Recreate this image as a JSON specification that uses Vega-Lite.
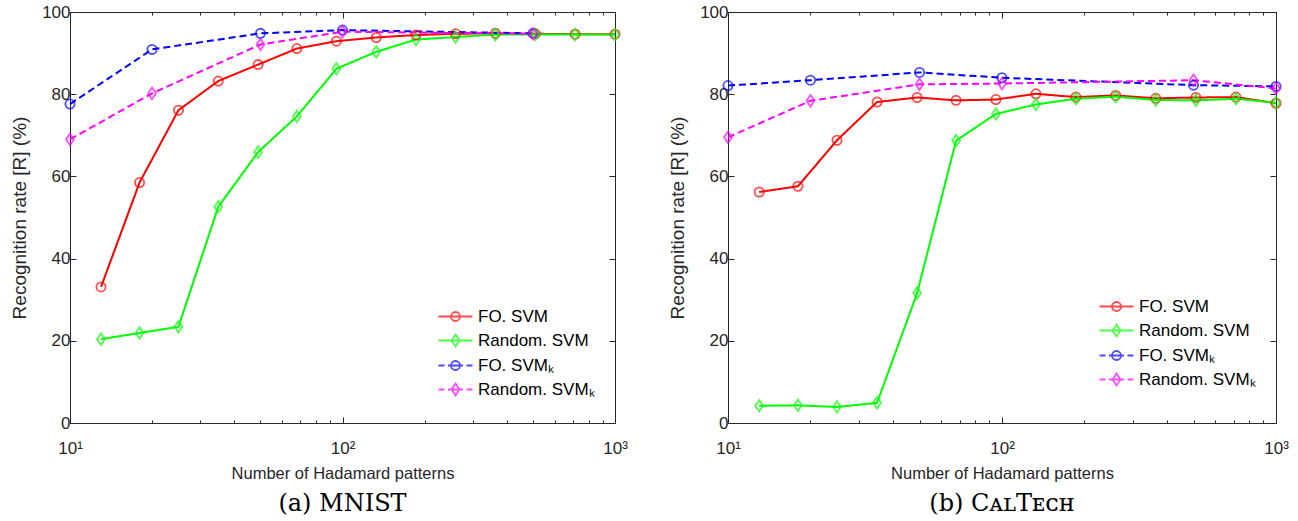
{
  "$schema": "https://vega.github.io/schema/vega-lite/v6.json",
  "background": "white",
  "padding": {"left": 10, "top": 3, "right": 5, "bottom": 5},
  "spacing": 40,
  "config": {
    "view": {"stroke": null},
    "axis": {
      "labelFont": "Liberation Sans",
      "labelFontSize": 17,
      "labelColor": "#262626",
      "titleFont": "Liberation Sans",
      "titleFontSize": 16.5,
      "titleFontWeight": "normal",
      "titleColor": "#262626",
      "domainColor": "#262626",
      "tickColor": "#262626",
      "domainWidth": 1,
      "tickWidth": 1,
      "grid": false
    },
    "legend": {
      "labelFont": "Liberation Sans",
      "labelFontSize": 17,
      "labelColor": "#000000"
    }
  },
  "datasets": {
    "mnist": [
      {"n": 13, "rate": 33.1, "series": "FO. SVM"},
      {"n": 18, "rate": 58.5, "series": "FO. SVM"},
      {"n": 25, "rate": 76.1, "series": "FO. SVM"},
      {"n": 35, "rate": 83.2, "series": "FO. SVM"},
      {"n": 49, "rate": 87.2, "series": "FO. SVM"},
      {"n": 68, "rate": 91.1, "series": "FO. SVM"},
      {"n": 95, "rate": 92.9, "series": "FO. SVM"},
      {"n": 133, "rate": 93.8, "series": "FO. SVM"},
      {"n": 186, "rate": 94.4, "series": "FO. SVM"},
      {"n": 260, "rate": 94.7, "series": "FO. SVM"},
      {"n": 364, "rate": 94.8, "series": "FO. SVM"},
      {"n": 510, "rate": 94.7, "series": "FO. SVM"},
      {"n": 714, "rate": 94.6, "series": "FO. SVM"},
      {"n": 1000, "rate": 94.6, "series": "FO. SVM"},
      {"n": 13, "rate": 20.4, "series": "Random. SVM"},
      {"n": 18, "rate": 21.9, "series": "Random. SVM"},
      {"n": 25, "rate": 23.4, "series": "Random. SVM"},
      {"n": 35, "rate": 52.6, "series": "Random. SVM"},
      {"n": 49, "rate": 65.9, "series": "Random. SVM"},
      {"n": 68, "rate": 74.6, "series": "Random. SVM"},
      {"n": 95, "rate": 86.2, "series": "Random. SVM"},
      {"n": 133, "rate": 90.3, "series": "Random. SVM"},
      {"n": 186, "rate": 93.3, "series": "Random. SVM"},
      {"n": 260, "rate": 93.9, "series": "Random. SVM"},
      {"n": 364, "rate": 94.5, "series": "Random. SVM"},
      {"n": 510, "rate": 94.5, "series": "Random. SVM"},
      {"n": 714, "rate": 94.5, "series": "Random. SVM"},
      {"n": 1000, "rate": 94.5, "series": "Random. SVM"},
      {"n": 10, "rate": 77.6, "series": "FO. SVMₖ"},
      {"n": 20, "rate": 90.9, "series": "FO. SVMₖ"},
      {"n": 50, "rate": 94.8, "series": "FO. SVMₖ"},
      {"n": 100, "rate": 95.6, "series": "FO. SVMₖ"},
      {"n": 500, "rate": 94.8, "series": "FO. SVMₖ"},
      {"n": 10, "rate": 69.0, "series": "Random. SVMₖ"},
      {"n": 20, "rate": 80.2, "series": "Random. SVMₖ"},
      {"n": 50, "rate": 92.1, "series": "Random. SVMₖ"},
      {"n": 100, "rate": 95.2, "series": "Random. SVMₖ"},
      {"n": 500, "rate": 94.7, "series": "Random. SVMₖ"}
    ],
    "caltech": [
      {"n": 13, "rate": 56.2, "series": "FO. SVM"},
      {"n": 18, "rate": 57.6, "series": "FO. SVM"},
      {"n": 25, "rate": 68.8, "series": "FO. SVM"},
      {"n": 35, "rate": 78.1, "series": "FO. SVM"},
      {"n": 49, "rate": 79.2, "series": "FO. SVM"},
      {"n": 68, "rate": 78.5, "series": "FO. SVM"},
      {"n": 95, "rate": 78.7, "series": "FO. SVM"},
      {"n": 133, "rate": 80.1, "series": "FO. SVM"},
      {"n": 186, "rate": 79.3, "series": "FO. SVM"},
      {"n": 260, "rate": 79.7, "series": "FO. SVM"},
      {"n": 364, "rate": 79.0, "series": "FO. SVM"},
      {"n": 510, "rate": 79.2, "series": "FO. SVM"},
      {"n": 714, "rate": 79.3, "series": "FO. SVM"},
      {"n": 1000, "rate": 77.8, "series": "FO. SVM"},
      {"n": 13, "rate": 4.2, "series": "Random. SVM"},
      {"n": 18, "rate": 4.3, "series": "Random. SVM"},
      {"n": 25, "rate": 3.9, "series": "Random. SVM"},
      {"n": 35, "rate": 4.9, "series": "Random. SVM"},
      {"n": 49, "rate": 31.6, "series": "Random. SVM"},
      {"n": 68, "rate": 68.7, "series": "Random. SVM"},
      {"n": 95, "rate": 75.2, "series": "Random. SVM"},
      {"n": 133, "rate": 77.5, "series": "Random. SVM"},
      {"n": 186, "rate": 78.9, "series": "Random. SVM"},
      {"n": 260, "rate": 79.4, "series": "Random. SVM"},
      {"n": 364, "rate": 78.6, "series": "Random. SVM"},
      {"n": 510, "rate": 78.5, "series": "Random. SVM"},
      {"n": 714, "rate": 78.9, "series": "Random. SVM"},
      {"n": 1000, "rate": 77.9, "series": "Random. SVM"},
      {"n": 10, "rate": 82.1, "series": "FO. SVMₖ"},
      {"n": 20, "rate": 83.4, "series": "FO. SVMₖ"},
      {"n": 50, "rate": 85.3, "series": "FO. SVMₖ"},
      {"n": 100, "rate": 84.0, "series": "FO. SVMₖ"},
      {"n": 500, "rate": 82.2, "series": "FO. SVMₖ"},
      {"n": 1000, "rate": 81.9, "series": "FO. SVMₖ"},
      {"n": 10, "rate": 69.5, "series": "Random. SVMₖ"},
      {"n": 20, "rate": 78.4, "series": "Random. SVMₖ"},
      {"n": 50, "rate": 82.4, "series": "Random. SVMₖ"},
      {"n": 100, "rate": 82.6, "series": "Random. SVMₖ"},
      {"n": 500, "rate": 83.4, "series": "Random. SVMₖ"},
      {"n": 1000, "rate": 81.4, "series": "Random. SVMₖ"}
    ]
  },
  "resolve": {
    "scale": {"color": "independent", "shape": "independent", "strokeDash": "independent"},
    "legend": {"color": "independent", "shape": "independent"}
  },
  "hconcat": [
    {
      "width": 545,
      "height": 411,
      "data": {"name": "mnist"},
      "title": {"text": "(a) MNIST", "orient": "bottom", "anchor": "middle", "frame": "group", "font": "DejaVu Serif", "fontSize": 24, "fontWeight": "normal", "color": "#000000", "offset": 10},
      "resolve": {"axis": {"x": "independent", "y": "independent"}},
      "layer": [
        {
          "mark": {"type": "line", "strokeWidth": 2},
          "encoding": {
            "x": {"field": "n", "type": "quantitative", "scale": {"type": "log", "domain": [10, 1000], "nice": false},
              "axis": {"orient": "bottom", "title": "Number of Hadamard patterns", "values": [10, 20, 30, 40, 50, 60, 70, 80, 90, 100, 200, 300, 400, 500, 600, 700, 800, 900, 1000],
                "labelExpr": "datum.value == 10 ? '10¹' : datum.value == 100 ? '10²' : datum.value == 1000 ? '10³' : ''",
                "tickSize": {"condition": {"test": "indexof([10, 100, 1000], datum.value) >= 0", "value": -6}, "value": -3},
                "labelPadding": 23, "titlePadding": 6, "labelFlush": false, "labelOverlap": false}},
            "y": {"field": "rate", "type": "quantitative", "scale": {"domain": [0, 100], "nice": false},
              "axis": {"orient": "left", "title": "Recognition rate [R] (%)", "titleFontSize": 19, "values": [0, 20, 40, 60, 80, 100], "tickSize": -6, "labelPadding": 6, "titlePadding": 12}},
            "color": {"field": "series", "type": "nominal",
              "scale": {"domain": ["FO. SVM", "Random. SVM", "FO. SVMₖ", "Random. SVMₖ"], "range": ["#ff0000", "#00ff00", "#0000ff", "#ff00ff"]},
              "legend": {"orient": "none", "legendX": 377, "legendY": 296, "title": null, "padding": 0, "symbolSize": 100, "symbolStrokeWidth": 1.8, "symbolFillColor": "transparent", "labelOffset": 14, "rowPadding": 5}},
            "strokeDash": {"field": "series", "type": "nominal",
              "scale": {"range": [[1, 0], [7, 4], [1, 0], [7, 4]]}, "legend": null}
          }
        },
        {
          "transform": [{"filter": "indexof(datum.series, 'FO') == 0"}],
          "mark": {"type": "point", "shape": "circle", "filled": false, "strokeWidth": 1.8, "size": 85},
          "encoding": {
            "x": {"field": "n", "type": "quantitative",
              "axis": {"orient": "top", "title": null, "labels": false, "values": [10, 20, 30, 40, 50, 60, 70, 80, 90, 100, 200, 300, 400, 500, 600, 700, 800, 900, 1000],
                "tickSize": {"condition": {"test": "indexof([10, 100, 1000], datum.value) >= 0", "value": -6}, "value": -3}}},
            "y": {"field": "rate", "type": "quantitative",
              "axis": {"orient": "right", "title": null, "labels": false, "values": [0, 20, 40, 60, 80, 100], "tickSize": -6}},
            "color": {"field": "series", "type": "nominal"}
          }
        },
        {
          "transform": [{"filter": "indexof(datum.series, 'Random') == 0"}],
          "mark": {"type": "point", "shape": "M0,-1.25L0.85,0L0,1.25L-0.85,0Z", "filled": false, "strokeWidth": 1.8, "size": 85},
          "encoding": {
            "x": {"field": "n", "type": "quantitative", "axis": null},
            "y": {"field": "rate", "type": "quantitative", "axis": null},
            "color": {"field": "series", "type": "nominal"}
          }
        },
        {
          "transform": [{"filter": "false"}],
          "mark": {"type": "point", "filled": false, "strokeWidth": 1.8},
          "encoding": {
            "x": {"field": "n", "type": "quantitative", "axis": null},
            "y": {"field": "rate", "type": "quantitative", "axis": null},
            "color": {"field": "series", "type": "nominal"},
            "shape": {"field": "series", "type": "nominal",
              "scale": {"domain": ["FO. SVM", "Random. SVM", "FO. SVMₖ", "Random. SVMₖ"],
                "range": [
                  "M-3.4,0H3.4M0.9,0A0.9,0.9,0,1,1,-0.9,0A0.9,0.9,0,1,1,0.9,0Z",
                  "M-3.4,0H3.4M0,-1.2L0.8,0L0,1.2L-0.8,0Z",
                  "M-3.4,0H-2.2M-1.5,0H1.5M2.2,0H3.4M0.9,0A0.9,0.9,0,1,1,-0.9,0A0.9,0.9,0,1,1,0.9,0Z",
                  "M-3.4,0H-2.2M-1.5,0H1.5M2.2,0H3.4M0,-1.2L0.8,0L0,1.2L-0.8,0Z"]},
              "legend": {"orient": "none", "legendX": 377, "legendY": 296, "title": null, "padding": 0, "symbolSize": 100, "symbolStrokeWidth": 1.8, "symbolFillColor": "transparent", "labelOffset": 14, "rowPadding": 5}}
          }
        }
      ]
    },
    {
      "width": 548,
      "height": 411,
      "data": {"name": "caltech"},
      "title": {"text": "(b) CᴀʟTᴇᴄʜ", "orient": "bottom", "anchor": "middle", "frame": "group", "font": "DejaVu Serif", "fontSize": 24, "fontWeight": "normal", "color": "#000000", "offset": 10},
      "resolve": {"axis": {"x": "independent", "y": "independent"}},
      "layer": [
        {
          "mark": {"type": "line", "strokeWidth": 2},
          "encoding": {
            "x": {"field": "n", "type": "quantitative", "scale": {"type": "log", "domain": [10, 1000], "nice": false},
              "axis": {"orient": "bottom", "title": "Number of Hadamard patterns", "values": [10, 20, 30, 40, 50, 60, 70, 80, 90, 100, 200, 300, 400, 500, 600, 700, 800, 900, 1000],
                "labelExpr": "datum.value == 10 ? '10¹' : datum.value == 100 ? '10²' : datum.value == 1000 ? '10³' : ''",
                "tickSize": {"condition": {"test": "indexof([10, 100, 1000], datum.value) >= 0", "value": -6}, "value": -3},
                "labelPadding": 23, "titlePadding": 6, "labelFlush": false, "labelOverlap": false}},
            "y": {"field": "rate", "type": "quantitative", "scale": {"domain": [0, 100], "nice": false},
              "axis": {"orient": "left", "title": "Recognition rate [R] (%)", "titleFontSize": 19, "values": [0, 20, 40, 60, 80, 100], "tickSize": -6, "labelPadding": 6, "titlePadding": 12}},
            "color": {"field": "series", "type": "nominal",
              "scale": {"domain": ["FO. SVM", "Random. SVM", "FO. SVMₖ", "Random. SVMₖ"], "range": ["#ff0000", "#00ff00", "#0000ff", "#ff00ff"]},
              "legend": {"orient": "none", "legendX": 380, "legendY": 286, "title": null, "padding": 0, "symbolSize": 100, "symbolStrokeWidth": 1.8, "symbolFillColor": "transparent", "labelOffset": 14, "rowPadding": 5}},
            "strokeDash": {"field": "series", "type": "nominal",
              "scale": {"range": [[1, 0], [7, 4], [1, 0], [7, 4]]}, "legend": null}
          }
        },
        {
          "transform": [{"filter": "indexof(datum.series, 'FO') == 0"}],
          "mark": {"type": "point", "shape": "circle", "filled": false, "strokeWidth": 1.8, "size": 85},
          "encoding": {
            "x": {"field": "n", "type": "quantitative",
              "axis": {"orient": "top", "title": null, "labels": false, "values": [10, 20, 30, 40, 50, 60, 70, 80, 90, 100, 200, 300, 400, 500, 600, 700, 800, 900, 1000],
                "tickSize": {"condition": {"test": "indexof([10, 100, 1000], datum.value) >= 0", "value": -6}, "value": -3}}},
            "y": {"field": "rate", "type": "quantitative",
              "axis": {"orient": "right", "title": null, "labels": false, "values": [0, 20, 40, 60, 80, 100], "tickSize": -6}},
            "color": {"field": "series", "type": "nominal"}
          }
        },
        {
          "transform": [{"filter": "indexof(datum.series, 'Random') == 0"}],
          "mark": {"type": "point", "shape": "M0,-1.25L0.85,0L0,1.25L-0.85,0Z", "filled": false, "strokeWidth": 1.8, "size": 85},
          "encoding": {
            "x": {"field": "n", "type": "quantitative", "axis": null},
            "y": {"field": "rate", "type": "quantitative", "axis": null},
            "color": {"field": "series", "type": "nominal"}
          }
        },
        {
          "transform": [{"filter": "false"}],
          "mark": {"type": "point", "filled": false, "strokeWidth": 1.8},
          "encoding": {
            "x": {"field": "n", "type": "quantitative", "axis": null},
            "y": {"field": "rate", "type": "quantitative", "axis": null},
            "color": {"field": "series", "type": "nominal"},
            "shape": {"field": "series", "type": "nominal",
              "scale": {"domain": ["FO. SVM", "Random. SVM", "FO. SVMₖ", "Random. SVMₖ"],
                "range": [
                  "M-3.4,0H3.4M0.9,0A0.9,0.9,0,1,1,-0.9,0A0.9,0.9,0,1,1,0.9,0Z",
                  "M-3.4,0H3.4M0,-1.2L0.8,0L0,1.2L-0.8,0Z",
                  "M-3.4,0H-2.2M-1.5,0H1.5M2.2,0H3.4M0.9,0A0.9,0.9,0,1,1,-0.9,0A0.9,0.9,0,1,1,0.9,0Z",
                  "M-3.4,0H-2.2M-1.5,0H1.5M2.2,0H3.4M0,-1.2L0.8,0L0,1.2L-0.8,0Z"]},
              "legend": {"orient": "none", "legendX": 380, "legendY": 286, "title": null, "padding": 0, "symbolSize": 100, "symbolStrokeWidth": 1.8, "symbolFillColor": "transparent", "labelOffset": 14, "rowPadding": 5}}
          }
        }
      ]
    }
  ]
}
